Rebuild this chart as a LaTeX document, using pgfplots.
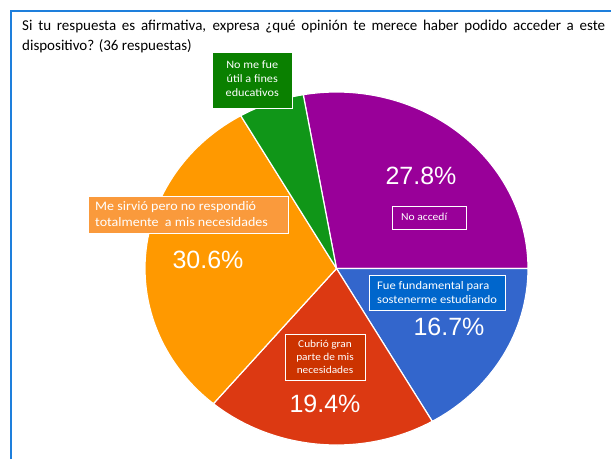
\documentclass[border=0pt]{standalone}
\usepackage{fontspec}
\setmainfont{Carlito}
\newfontfamily\boxfont{Carlito}[FakeStretch=1.08]
\newfontfamily\pctfont{Liberation Sans}
\usepackage{pgfplots}
\usepackage{pgfplotstable}
\pgfplotsset{compat=1.18}

\definecolor{cPurple}{HTML}{990099}
\definecolor{cBlue}{HTML}{3366CC}
\definecolor{cRed}{HTML}{DC3912}
\definecolor{cOrange}{HTML}{FF9900}
\definecolor{cGreen}{HTML}{109618}
\definecolor{bGreen}{HTML}{0A8000}
\definecolor{bOrange}{HTML}{FA9A3C}
\definecolor{bBlue}{HTML}{0066CC}
\definecolor{bRed}{HTML}{CC3300}
\definecolor{frameblue}{HTML}{1E7FDC}
\colorlet{slice0}{cPurple}
\colorlet{slice1}{cBlue}
\colorlet{slice2}{cRed}
\colorlet{slice3}{cOrange}
\colorlet{slice4}{cGreen}

% counts out of 36 responses
\pgfplotstableread{
slice count
0 10
1 6
2 7
3 11
4 2
}\piedata

\begin{document}
\begin{tikzpicture}
\path[use as bounding box] (0,0) rectangle (611pt,459pt);
\begin{axis}[scale only axis, width=611pt, height=459pt,
  xmin=0, xmax=611, ymin=0, ymax=459, y dir=reverse,
  hide axis, clip=false, enlargelimits=false]
\def\pieStart{100}
\pgfplotsforeachungrouped \i in {0,...,4}{%
  \pgfplotstablegetelem{\i}{count}\of\piedata
  \pgfmathsetmacro{\pieSweep}{\pgfplotsretval*360/36}%
  \pgfmathsetmacro{\pieStop}{\pieStart-\pieSweep}%
  \edef\pieCmd{\noexpand\fill[slice\i, draw=white, line width=1.2pt, line join=round]
    (axis cs:336.5,268.5) -- ++(\pieStart:191.5pt and 176.5pt)
    arc[start angle=\pieStart, end angle=\pieStop, x radius=191.5pt, y radius=176.5pt] -- cycle;}%
  \pieCmd
  \global\let\pieStart\pieStop
}
% frame
\draw[frameblue, line width=2pt] (axis cs:11,459) -- (axis cs:11,11) -- (axis cs:611,11);
% title
\node[anchor=north west, inner sep=0pt, text width=583pt, align=justify,
  font=\fontsize{15}{19.5}\selectfont] at (axis cs:22,20)
  {Si tu respuesta es afirmativa, expresa ¿qué opinión te merece haber podido acceder a este\linebreak dispositivo? (36 respuestas)};
% callout boxes
\draw[white, line width=0.8pt, fill=bGreen] (axis cs:212.5,52) rectangle (axis cs:292,108);
\node[inner sep=0pt, text=white, align=center, font=\boxfont\fontsize{11.3}{13.8}\selectfont]
  at (axis cs:252.25,78.5) {No me fue\\útil a fines\\educativos};
\draw[white, line width=0.8pt, fill=bOrange] (axis cs:88,196) rectangle (axis cs:288,233);
\node[anchor=west, inner sep=0pt, text=white, align=left, font=\boxfont\fontsize{13}{16}\selectfont]
  at (axis cs:95,214) {Me sirvió pero no respondió\\totalmente\ \ a mis necesidades};
\draw[white, line width=0.8pt, fill=cPurple] (axis cs:392,206) rectangle (axis cs:466,229);
\node[anchor=west, inner sep=0pt, text=white, font=\boxfont\fontsize{10.7}{13}\selectfont]
  at (axis cs:401,217) {No accedí};
\draw[white, line width=0.8pt, fill=bBlue] (axis cs:369,275) rectangle (axis cs:505,310);
\node[anchor=west, inner sep=0pt, text=white, align=left, font=\boxfont\fontsize{11.6}{13.5}\selectfont]
  at (axis cs:377,292.5) {Fue fundamental para\\sostenerme estudiando};
\draw[white, line width=0.8pt, fill=bRed] (axis cs:285,334) rectangle (axis cs:365,380);
\node[inner sep=0pt, text=white, align=center, font=\boxfont\fontsize{10.5}{13}\selectfont]
  at (axis cs:325,357) {Cubrió gran\\parte de mis\\necesidades};
% percentages
\node[text=white, inner sep=0pt, font=\pctfont\fontsize{25}{26}\selectfont] at (axis cs:421,176) {27.8\%};
\node[text=white, inner sep=0pt, font=\pctfont\fontsize{25}{26}\selectfont] at (axis cs:449,327) {16.7\%};
\node[text=white, inner sep=0pt, font=\pctfont\fontsize{25}{26}\selectfont] at (axis cs:325,404) {19.4\%};
\node[text=white, inner sep=0pt, font=\pctfont\fontsize{25}{26}\selectfont] at (axis cs:208,260) {30.6\%};
\end{axis}
\end{tikzpicture}
\end{document}
